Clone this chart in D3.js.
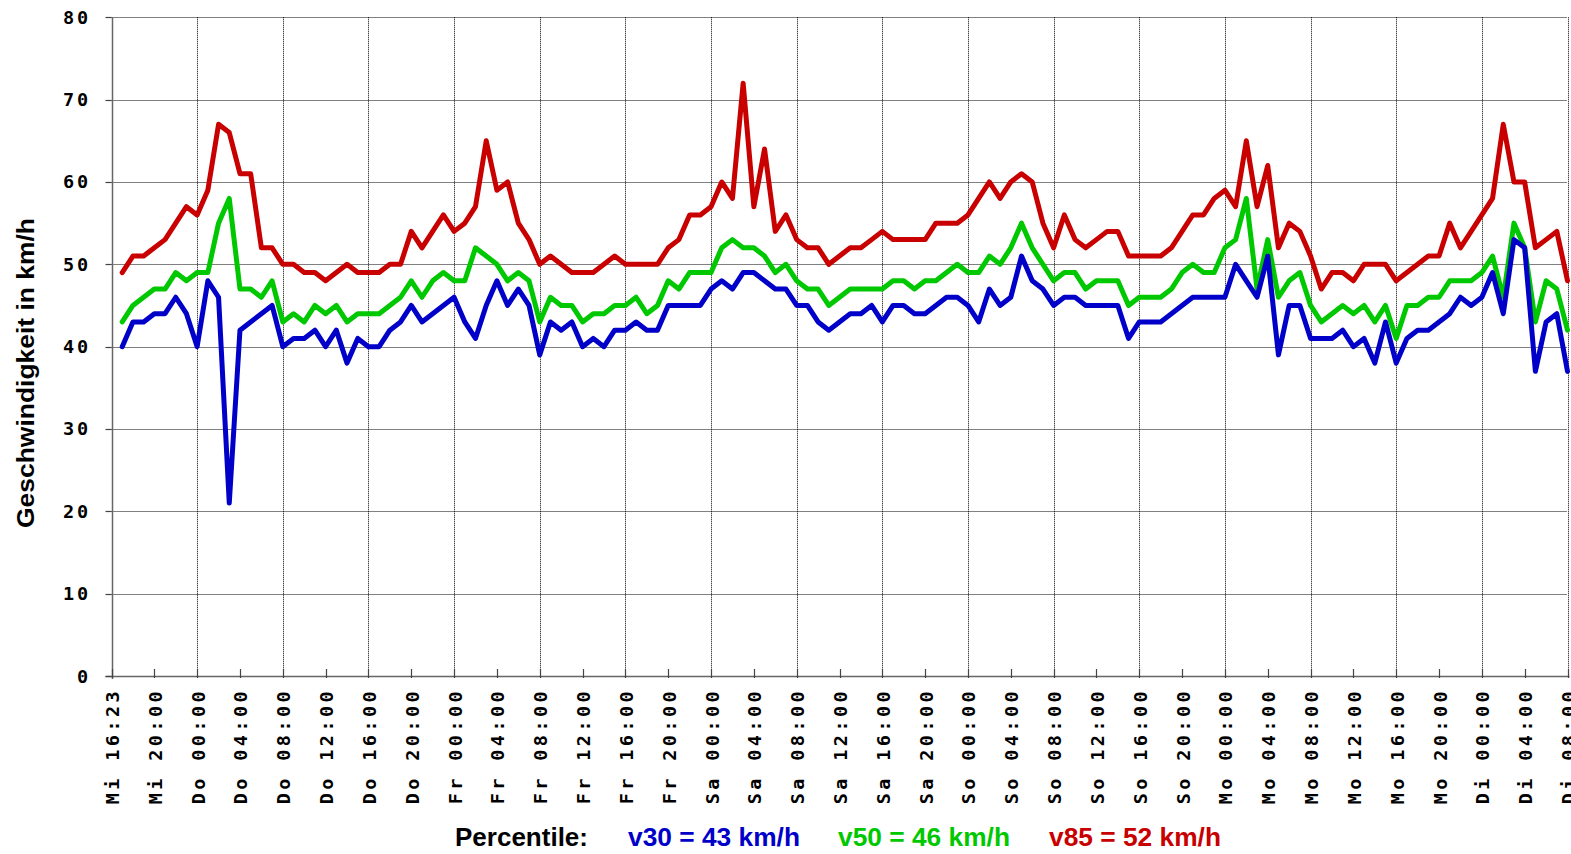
<!DOCTYPE html>
<html>
<head>
<meta charset="utf-8">
<script src="https://cdn.jsdelivr.net/npm/d3@7"></script>
<style>
  html, body { margin: 0; padding: 0; background: #fff; overflow: hidden; }
  svg { display: block; }
</style>
</head>
<body>
<svg id="chart" width="1571" height="854"></svg>
<script>
// ---- Data (hourly index 1..136) ----
const v85 = [49,51,51,52,53,55,57,56,59,67,66,61,61,52,52,50,50,49,49,48,49,50,49,49,49,50,50,54,52,54,56,54,55,57,65,59,
  60,55,53,50,51,50,49,49,49,50,51,50,50,50,50,52,53,56,56,57,60,58,72,57,64,54,56,53,52,52,50,51,52,52,53,
  54,53,53,53,53,55,55,55,56,58,60,58,60,61,60,55,52,56,53,52,53,54,54,51,51,51,51,52,54,56,56,58,59,57,65,57,
  62,52,55,54,51,47,49,49,48,50,50,50,48,49,50,51,51,55,52,54,56,58,67,60,60,52,53,54,48];
const v50 = [43,45,46,47,47,49,48,49,49,55,58,47,47,46,48,43,44,43,45,44,45,43,44,44,44,45,46,48,46,48,49,48,48,52,51,50,
  48,49,48,43,46,45,45,43,44,44,45,45,46,44,45,48,47,49,49,49,52,53,52,52,51,49,50,48,47,47,45,46,47,47,47,
  47,48,48,47,48,48,49,50,49,49,51,50,52,55,52,50,48,49,49,47,48,48,48,45,46,46,46,47,49,50,49,49,52,53,58,47,
  53,46,48,49,45,43,44,45,44,45,43,45,41,45,45,46,46,48,48,48,49,51,46,55,52,43,48,47,42];
const v30 = [40,43,43,44,44,46,44,40,48,46,21,42,43,44,45,40,41,41,42,40,42,38,41,40,40,42,43,45,43,44,45,46,43,41,45,48,
  45,47,45,39,43,42,43,40,41,40,42,42,43,42,42,45,45,45,45,47,48,47,49,49,48,47,47,45,45,43,42,43,44,44,45,
  43,45,45,44,44,45,46,46,45,43,47,45,46,51,48,47,45,46,46,45,45,45,45,41,43,43,43,44,45,46,46,46,46,50,48,46,
  51,39,45,45,41,41,41,42,40,41,38,43,38,41,42,42,43,44,46,45,46,49,44,53,52,37,43,44,37];

const tickLabels = ["Mi 16:23","Mi 20:00",
  "Do 00:00","Do 04:00","Do 08:00","Do 12:00","Do 16:00","Do 20:00",
  "Fr 00:00","Fr 04:00","Fr 08:00","Fr 12:00","Fr 16:00","Fr 20:00",
  "Sa 00:00","Sa 04:00","Sa 08:00","Sa 12:00","Sa 16:00","Sa 20:00",
  "So 00:00","So 04:00","So 08:00","So 12:00","So 16:00","So 20:00",
  "Mo 00:00","Mo 04:00","Mo 08:00","Mo 12:00","Mo 16:00","Mo 20:00",
  "Di 00:00","Di 04:00","Di 08:00"];
const yTicks = [0,10,20,30,40,50,60,70,80];
const legendItems = [
  {label: "v30 = 43 km/h", color: "#0000c8"},
  {label: "v50 = 46 km/h", color: "#00c800"},
  {label: "v85 = 52 km/h", color: "#c80000"}
];
const yTitle = "Geschwindigkeit in km/h";
const legendTitle = "Percentile:";

// ---- Layout ----
const svg = d3.select("#chart");
const plotL = 111.5, plotR = 1567.5, plotT = 17.3, plotB = 676;
const x = d3.scaleLinear().domain([0, 136]).range([plotL, plotR]);
const y = d3.scaleLinear().domain([0, 80]).range([plotB, plotT]);

const monoFont = "'DejaVu Sans Mono', monospace";

// Horizontal grid
svg.append("g").selectAll("line").data(yTicks.filter(d => d > 0)).join("line")
  .attr("x1", plotL).attr("x2", plotR)
  .attr("y1", d => Math.round(y(d)) + 0.5).attr("y2", d => Math.round(y(d)) + 0.5)
  .attr("stroke", "#000").attr("stroke-width", 1).attr("stroke-dasharray", "1,1");

// Vertical grid every 8 hours
const gridIdx = d3.range(8, 137, 8);
svg.append("g").selectAll("line").data(gridIdx).join("line")
  .attr("x1", d => Math.round(x(d)) + 0.5).attr("x2", d => Math.round(x(d)) + 0.5)
  .attr("y1", plotT).attr("y2", plotB)
  .attr("stroke", "#000").attr("stroke-width", 1).attr("stroke-dasharray", "1,1");

// Axes lines
svg.append("line").attr("x1", Math.round(plotL) + 0.5).attr("x2", Math.round(plotL) + 0.5)
  .attr("y1", plotT).attr("y2", plotB + 3).attr("stroke", "#666").attr("stroke-width", 1.5);
svg.append("line").attr("x1", plotL - 6).attr("x2", plotR + 2)
  .attr("y1", Math.round(plotB) + 0.5).attr("y2", Math.round(plotB) + 0.5)
  .attr("stroke", "#666").attr("stroke-width", 1.5);

// Y ticks
svg.append("g").selectAll("line").data(yTicks).join("line")
  .attr("x1", plotL - 6).attr("x2", plotL)
  .attr("y1", d => Math.round(y(d)) + 0.5).attr("y2", d => Math.round(y(d)) + 0.5)
  .attr("stroke", "#444").attr("stroke-width", 1.2);
svg.append("g").selectAll("text").data(yTicks).join("text")
  .attr("x", 91).attr("y", d => y(d))
  .attr("text-anchor", "end").attr("dominant-baseline", "central")
  .attr("font-family", monoFont).attr("font-weight", "bold").attr("font-size", 18.5)
  .attr("letter-spacing", 2.8)
  .attr("fill", "#000").text(d => d);

// X ticks every 4 hours
const tickIdx = tickLabels.map((d, i) => i * 4);
svg.append("g").selectAll("line").data(tickIdx).join("line")
  .attr("x1", d => Math.round(x(d)) + 0.5).attr("x2", d => Math.round(x(d)) + 0.5)
  .attr("y1", plotB - 7).attr("y2", plotB + 2)
  .attr("stroke", "#444").attr("stroke-width", 1.2);
svg.append("g").selectAll("text").data(tickLabels).join("text")
  .attr("transform", (d, i) => `translate(${x(i * 4) + 1},688) rotate(-90)`)
  .attr("text-anchor", "end").attr("dominant-baseline", "central")
  .attr("font-family", monoFont).attr("font-weight", "bold").attr("font-size", 18.5)
  .attr("letter-spacing", 3.4)
  .attr("fill", "#000").text(d => d);

// Lines
const line = d3.line().x((d, i) => x(i + 1)).y(d => y(d));
const series = [
  {values: v85, color: "#c80000"},
  {values: v50, color: "#00c800"},
  {values: v30, color: "#0000c8"}
];
svg.append("g").selectAll("path").data(series).join("path")
  .attr("d", d => line(d.values))
  .attr("fill", "none").attr("stroke", d => d.color)
  .attr("stroke-width", 5).attr("stroke-linejoin", "round").attr("stroke-linecap", "round");

// Y title
svg.append("text")
  .attr("transform", "translate(26,373) rotate(-90)")
  .attr("text-anchor", "middle").attr("dominant-baseline", "central")
  .attr("font-family", "'Liberation Sans', Arial, sans-serif").attr("font-weight", "bold")
  .attr("font-size", 23).attr("fill", "#000")
  .attr("textLength", 310).attr("lengthAdjust", "spacingAndGlyphs")
  .text(yTitle);

// Legend
const legendFont = "'Liberation Sans', Arial, sans-serif";
svg.append("text").attr("x", 455).attr("y", 846)
  .attr("font-family", legendFont).attr("font-weight", "bold").attr("font-size", 25)
  .attr("textLength", 133).attr("lengthAdjust", "spacingAndGlyphs")
  .attr("fill", "#000").text(legendTitle);
const legendX = [628, 838, 1049];
svg.append("g").selectAll("text").data(legendItems).join("text")
  .attr("x", (d, i) => legendX[i]).attr("y", 846)
  .attr("font-family", legendFont).attr("font-weight", "bold").attr("font-size", 25)
  .attr("textLength", 172).attr("lengthAdjust", "spacingAndGlyphs")
  .attr("fill", d => d.color).text(d => d.label);
</script>
</body>
</html>
